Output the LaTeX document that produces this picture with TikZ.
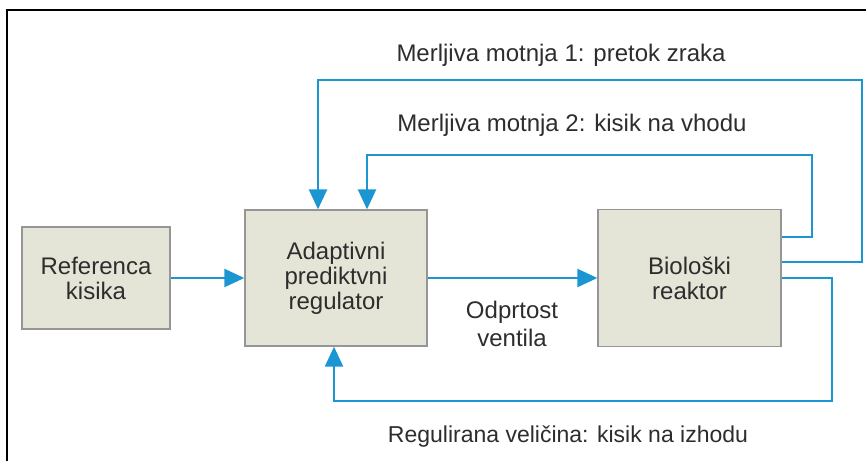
\documentclass[tikz,border=0pt]{standalone}
\usepackage{fontspec}
\setmainfont{Liberation Sans}
\usetikzlibrary{arrows.meta}
\definecolor{flowblue}{RGB}{28,150,210}
\definecolor{boxfill}{RGB}{228,229,214}
\definecolor{boxline}{RGB}{150,150,150}
\definecolor{ink}{RGB}{45,45,45}
\tikzset{
  block/.style={draw=boxline, fill=boxfill, line width=1.3pt, align=center,
    text=ink, font=\fontsize{24}{25}\selectfont, inner sep=0pt},
  flow/.style={draw=flowblue, line width=2.4pt,
    -{Triangle[length=20pt,width=18pt]}},
  label/.style={text=ink, font=\fontsize{24}{28}\selectfont, align=center, inner sep=0pt},
  frame/.style={draw=black, line width=2pt}
}
\begin{document}
\begin{tikzpicture}[x=1pt,y=-1pt]
\useasboundingbox (0,0) rectangle (866,461);
% outer frame (left and top edges only)
\draw[frame] (7,461) -- (7,10) -- (866,10);

% blocks
\node[block, minimum width=148pt, minimum height=102pt] (ref) at (96,278) {Referenca\\kisika};
\node[block, minimum width=182pt, minimum height=136pt] (adapt) at (336,278) {Adaptivni\\prediktvni\\regulator};
\node[block, minimum width=183pt, minimum height=137pt] (bio) at (689.5,278) {Biološki\\reaktor};

% routing points
\coordinate (m1) at (862,262);
\coordinate (m1top) at (318,80);
\coordinate (m2) at (812,237);
\coordinate (m2top) at (367,155);
\coordinate (fb) at (832,278);
\coordinate (fbbot) at (334,401);

% signal flow
\draw[flow] (ref.east) -- (adapt.west);
\draw[flow] (adapt.east) -- (bio.west);
\draw[flow] (bio.east |- m1) -- (m1) |- (m1top) -- (adapt.north -| m1top);
\draw[flow] (bio.east |- m2) -- (m2) |- (m2top) -- (adapt.north -| m2top);
\draw[flow] (bio.east |- fb) -- (fb) |- (fbbot) -- (adapt.south -| fbbot);

% labels
\node[label] (l1) at (561,55) {Merljiva motnja 1: pretok zraka};
\node[label] (l2) at (572,125) {Merljiva motnja 2: kisik na vhodu};
\node[label] (l3) at (512,324) {Odprtost\\ventila};
\node[label, font=\fontsize{23}{27}\selectfont] (l4) at (568,437) {Regulirana veličina: kisik na izhodu};
\end{tikzpicture}
\end{document}
